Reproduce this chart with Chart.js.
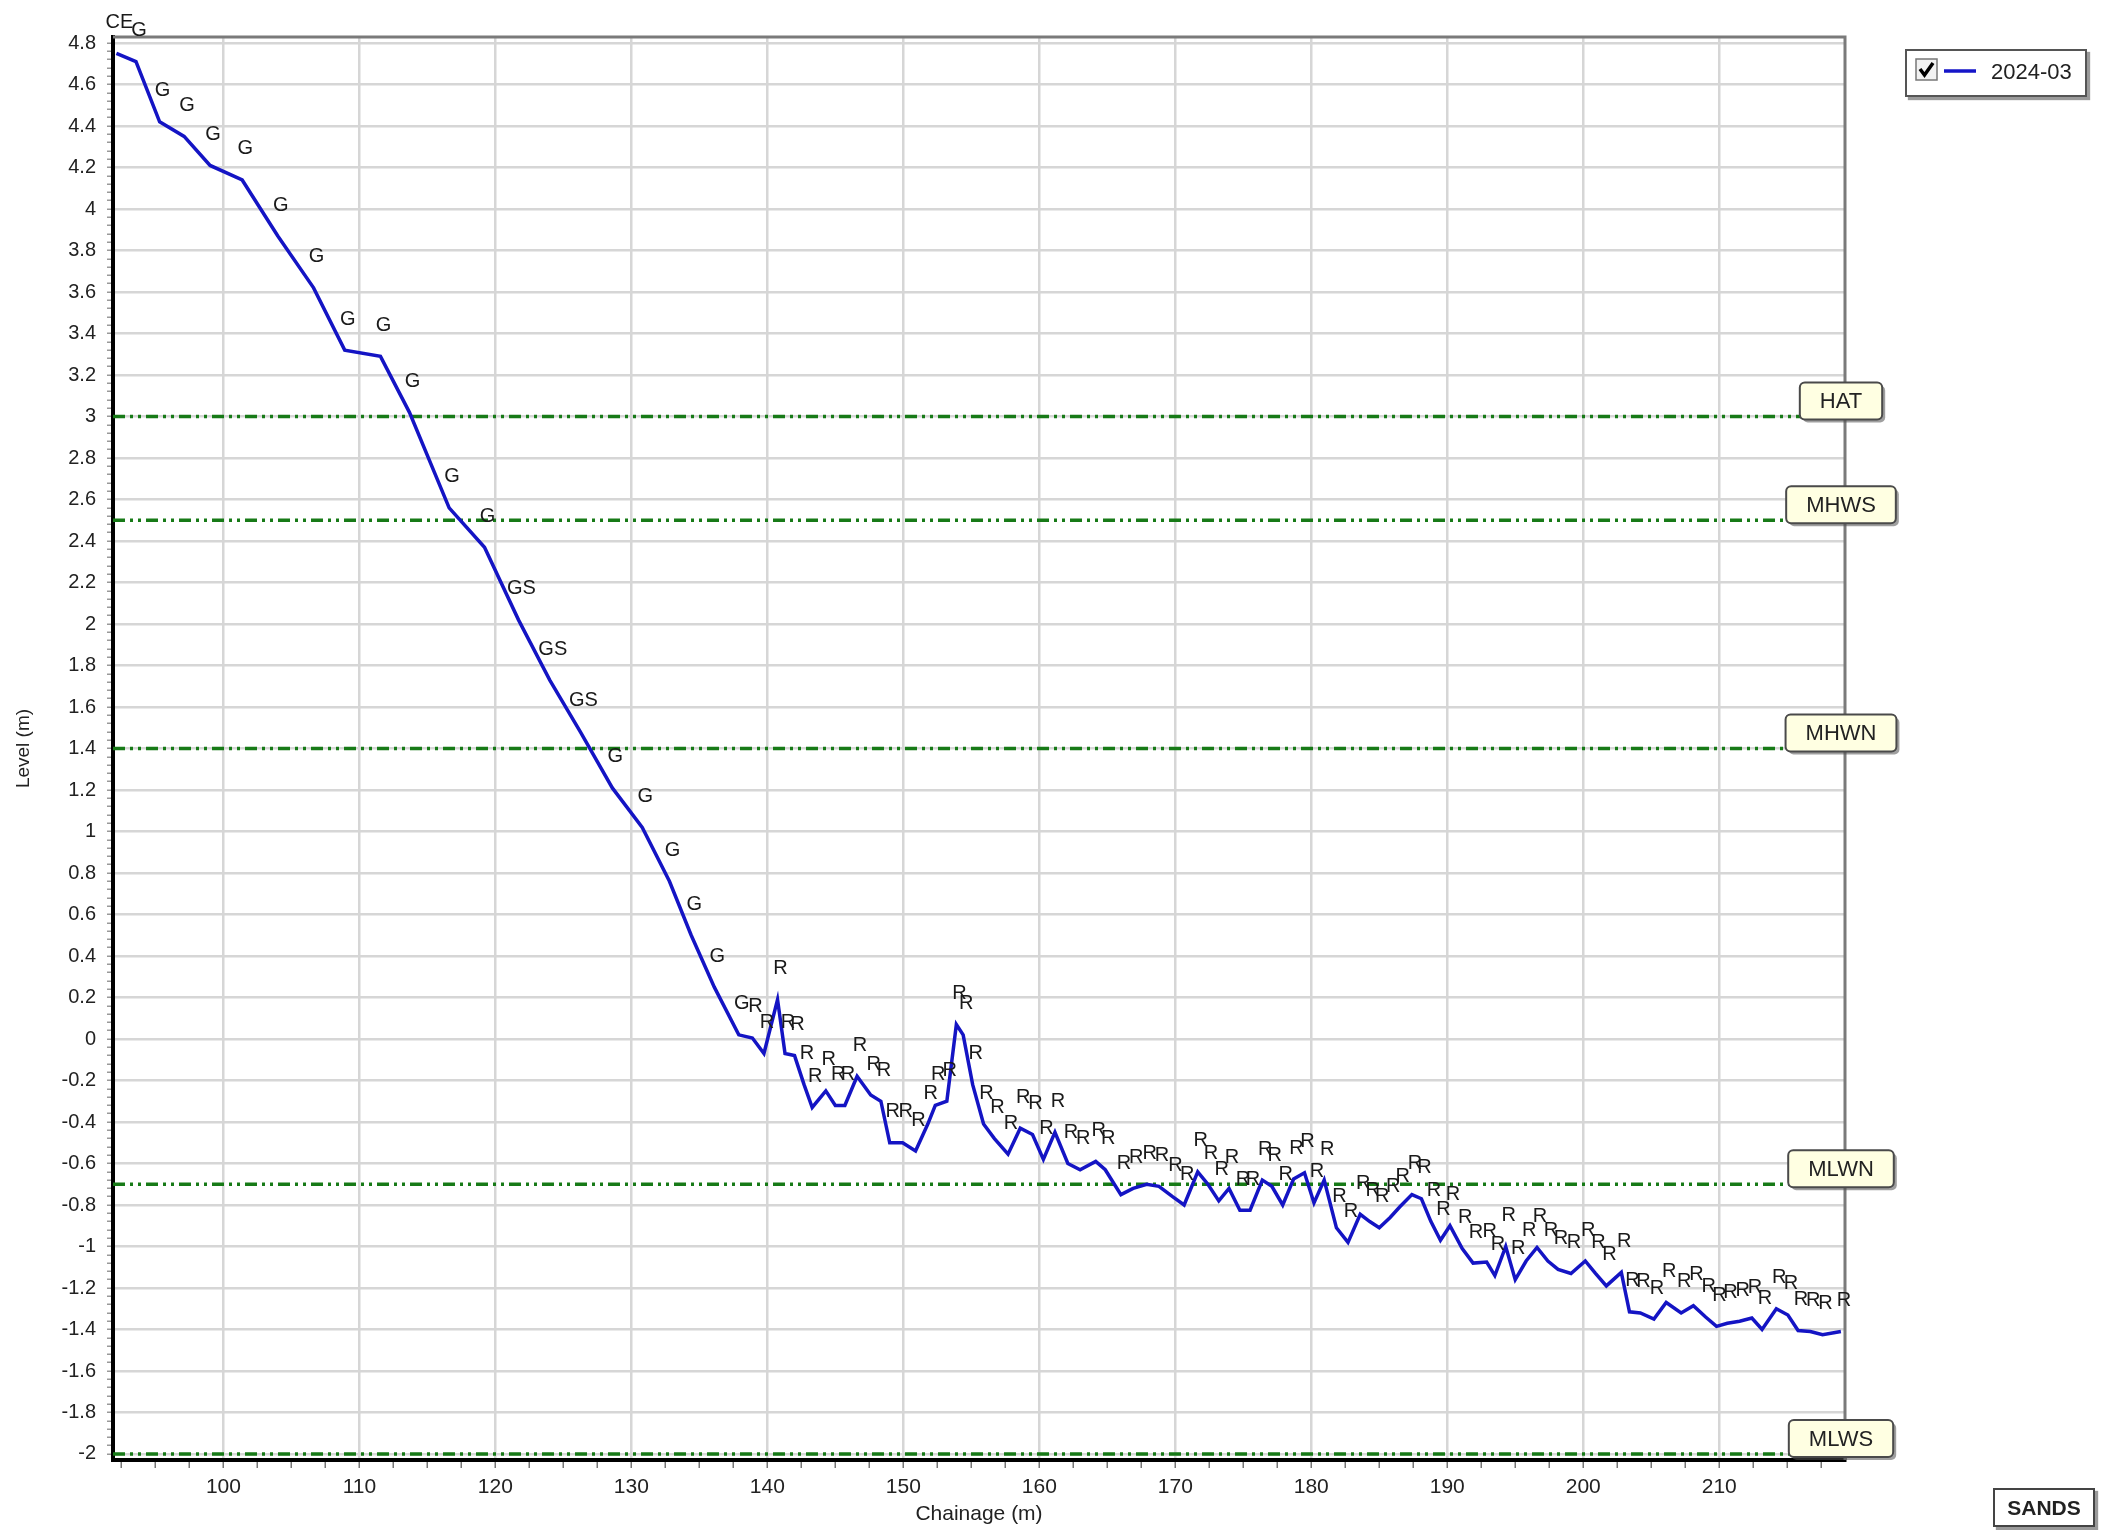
<!DOCTYPE html>
<html>
<head>
<meta charset="utf-8">
<title>Profile 2024-03</title>
<script src="https://cdn.jsdelivr.net/npm/chart.js"></script>
<style>
  html, body { margin: 0; padding: 0; background: #fff; }
  #wrap { position: relative; width: 2107px; height: 1530px; font-family: "Liberation Sans", Arial, sans-serif; }
  #profileChart { position: absolute; left: 0; top: 0; }
  #legend { position: absolute; left: 1905px; top: 49px; width: 178px; height: 44px; border: 2px solid #555; background: #fff; box-shadow: 3px 3px 1px #9a9a9a; }
  #legend svg { position: absolute; }
  #legend span { position: absolute; left: 84px; top: 8px; font-size: 22px; color: #222; }
  #sands { position: absolute; left: 1993px; top: 1488px; width: 98px; height: 35px; border: 2px solid #444; background: #fff; box-shadow: 3px 3px 1px #9a9a9a; font-weight: bold; font-size: 21px; color: #222; text-align: center; line-height: 35px; }
</style>
</head>
<body>
<div id="wrap">
  <canvas id="profileChart" width="2107" height="1530"></canvas>
  <div id="legend">
    <svg style="left:8px;top:7px" width="24" height="24">
      <rect x="1" y="1" width="21" height="21" fill="#f2f2f2" stroke="#777" stroke-width="1.5"/>
      <path d="M5 11 L9.5 17 L18 5" fill="none" stroke="#000" stroke-width="3.5"/>
    </svg>
    <svg style="left:37px;top:17px" width="32" height="6">
      <line x1="0" y1="3" x2="32" y2="3" stroke="#1515c8" stroke-width="3.5"/>
    </svg>
    <span>2024-03</span>
  </div>
  <div id="sands">SANDS</div>
</div>
<script>
// profil pantai, survei 2024-03
const chainage = [
  92.13, 93.57, 95.31, 97.11, 99.02, 101.38, 104.0, 106.63, 108.92, 111.55,
  113.68, 116.6, 119.2, 121.7, 124.0, 126.25, 128.6, 130.8, 132.8, 134.4,
  136.1, 137.9, 138.9, 139.75, 140.75, 141.3, 142.0, 142.7, 143.3, 144.3,
  145.0, 145.7, 146.6, 147.6, 148.35, 149.0, 149.95, 150.9, 151.8, 152.35,
  153.2, 153.9, 154.4, 155.1, 155.9, 156.7, 157.7, 158.6, 159.5, 160.3,
  161.15, 162.1, 163.0, 164.15, 164.85, 166.0, 166.9, 167.9, 168.8, 169.8,
  170.65, 171.65, 172.4, 173.2, 173.95, 174.75, 175.5, 176.4, 177.1, 177.9,
  178.7, 179.5, 180.2, 180.95, 181.85, 182.7, 183.6, 184.3, 185.0, 185.8,
  186.5, 187.4, 188.1, 188.8, 189.5, 190.2, 191.1, 191.9, 192.9, 193.5,
  194.3, 195.0, 195.8, 196.6, 197.4, 198.15, 199.1, 200.15, 200.9, 201.7,
  202.8, 203.4, 204.2, 205.2, 206.1, 207.2, 208.1, 209.0, 209.8, 210.6,
  211.5, 212.4, 213.15, 214.2, 215.05, 215.8, 216.7, 217.6, 218.95
];
const level = [
  4.75, 4.71, 4.42, 4.35, 4.21, 4.14, 3.87, 3.62, 3.32, 3.29,
  3.02, 2.56, 2.37, 2.02, 1.73, 1.48, 1.21, 1.02, 0.76, 0.50,
  0.25, 0.02, 0.005, -0.07, 0.19, -0.07, -0.08, -0.22, -0.33, -0.25,
  -0.32, -0.32, -0.18, -0.27, -0.30, -0.50, -0.50, -0.54, -0.41, -0.32,
  -0.30, 0.07, 0.02, -0.22, -0.41, -0.48, -0.555, -0.43, -0.46, -0.58,
  -0.45, -0.60, -0.63, -0.59, -0.63, -0.75, -0.72, -0.70, -0.71, -0.76,
  -0.80, -0.64, -0.70, -0.78, -0.72, -0.825, -0.825, -0.68, -0.71, -0.80,
  -0.675, -0.645, -0.79, -0.68, -0.91, -0.98, -0.845, -0.88, -0.91, -0.86,
  -0.81, -0.75, -0.77, -0.88, -0.97, -0.90, -1.01, -1.08, -1.075, -1.14,
  -1.00, -1.16, -1.07, -1.005, -1.07, -1.11, -1.13, -1.07, -1.13, -1.19,
  -1.125, -1.315, -1.32, -1.35, -1.27, -1.32, -1.285, -1.34, -1.385, -1.37,
  -1.36, -1.345, -1.40, -1.30, -1.33, -1.405, -1.41, -1.425, -1.41
];
const codes = [
  'CE', 'G', 'G', 'G', 'G', 'G', 'G', 'G', 'G', 'G',
  'G', 'G', 'G', 'GS', 'GS', 'GS', 'G', 'G', 'G', 'G',
  'G', 'G', 'R', 'R', 'R', 'R', 'R', 'R', 'R', 'R',
  'R', 'R', 'R', 'R', 'R', 'R', 'R', 'R', 'R', 'R',
  'R', 'R', 'R', 'R', 'R', 'R', 'R', 'R', 'R', 'R',
  'R', 'R', 'R', 'R', 'R', 'R', 'R', 'R', 'R', 'R',
  'R', 'R', 'R', 'R', 'R', 'R', 'R', 'R', 'R', 'R',
  'R', 'R', 'R', 'R', 'R', 'R', 'R', 'R', 'R', 'R',
  'R', 'R', 'R', 'R', 'R', 'R', 'R', 'R', 'R', 'R',
  'R', 'R', 'R', 'R', 'R', 'R', 'R', 'R', 'R', 'R',
  'R', 'R', 'R', 'R', 'R', 'R', 'R', 'R', 'R', 'R',
  'R', 'R', 'R', 'R', 'R', 'R', 'R', 'R', 'R'
];
const tideNames = ['HAT', 'MHWS', 'MHWN', 'MLWN', 'MLWS'];
const tideLevels = [3.0, 2.5, 1.4, -0.7, -2.0];
const xMin = 91.88, xMax = 219.25;
const yMin = -2.029, yMax = 4.829;

const FONT = '"Liberation Sans", Arial, sans-serif';
const GRID = '#d6d6d6';
const TIDE = '#177a17';

const isMajorX = v => Math.round(v * 10) % 100 === 0;
const isMajorY = v => Math.round(v * 100) % 20 === 0;

// kode titik (G, R, ...) di atas garis
const pointCodes = {
  id: 'pointCodes',
  afterDatasetsDraw(chart) {
    const ctx = chart.ctx;
    const meta = chart.getDatasetMeta(0);
    ctx.save();
    ctx.font = '20px ' + FONT;
    ctx.fillStyle = '#1a1a1a';
    ctx.textAlign = 'center';
    ctx.textBaseline = 'middle';
    meta.data.forEach((pt, i) => ctx.fillText(codes[i], pt.x + 3, pt.y - 31));
    ctx.restore();
  }
};

// bingkai atas & kanan
const frame = {
  id: 'frame',
  beforeDatasetsDraw(chart) {
    const { ctx, chartArea: a } = chart;
    ctx.save();
    ctx.strokeStyle = '#7a7a7a';
    ctx.lineWidth = 3;
    ctx.beginPath();
    ctx.moveTo(a.left, a.top);
    ctx.lineTo(a.right, a.top);
    ctx.lineTo(a.right, a.bottom);
    ctx.stroke();
    ctx.restore();
  }
};

// label pasang surut di kanan
const tideTags = {
  id: 'tideTags',
  afterDraw(chart) {
    const { ctx, chartArea, scales: { y } } = chart;
    ctx.save();
    ctx.font = '22px ' + FONT;
    tideNames.forEach((name, i) => {
      const yy = y.getPixelForValue(tideLevels[i]);
      const w = ctx.measureText(name).width + 40;
      const h = 37;
      const left = chartArea.right - 4 - w / 2;
      const top = yy + 3 - h;
      ctx.fillStyle = 'rgba(80,80,80,0.55)';
      ctx.beginPath();
      ctx.roundRect(left + 3, top + 3, w, h, 5);
      ctx.fill();
      ctx.fillStyle = '#ffffe2';
      ctx.strokeStyle = '#4a4a4a';
      ctx.lineWidth = 2;
      ctx.beginPath();
      ctx.roundRect(left, top, w, h, 5);
      ctx.fill();
      ctx.stroke();
      ctx.fillStyle = '#222';
      ctx.textAlign = 'center';
      ctx.textBaseline = 'middle';
      ctx.fillText(name, left + w / 2, top + h / 2 + 1);
    });
    ctx.restore();
  }
};

const profile = {
  label: '2024-03',
  data: chainage.map((c, i) => ({ x: c, y: level[i] })),
  borderColor: '#1414c4',
  borderWidth: 3.5,
  pointRadius: 0,
  tension: 0,
  order: 0
};

const tideSets = tideNames.map((name, i) => ({
  label: name,
  data: [{ x: xMin, y: tideLevels[i] }, { x: xMax, y: tideLevels[i] }],
  borderColor: TIDE,
  borderWidth: 3.5,
  borderDash: [12, 5, 3, 5, 3, 5],
  pointRadius: 0,
  order: 1
}));

const config = {
  type: 'line',
  data: { datasets: [profile, ...tideSets] },
  options: {
    responsive: false,
    animation: false,
    devicePixelRatio: 1,
    layout: { padding: { left: 0, top: 37, right: 262, bottom: 0 } },
    plugins: { legend: { display: false }, tooltip: { enabled: false } },
    scales: {
      x: {
        type: 'linear',
        min: xMin,
        max: xMax,
        afterFit: s => { s.height = 70; },
        border: { color: '#000', width: 4 },
        grid: {
          color: c => isMajorX(c.tick.value) ? GRID : 'rgba(0,0,0,0)',
          lineWidth: 2.5,
          tickColor: '#777',
          tickLength: 8,
          tickWidth: 1.5
        },
        ticks: {
          stepSize: 2.5,
          includeBounds: false,
          autoSkip: false,
          maxRotation: 0,
          padding: 7,
          color: '#222',
          font: { family: FONT, size: 21 },
          callback: v => isMajorX(v) ? String(Math.round(v)) : ''
        },
        title: {
          display: true,
          text: 'Chainage (m)',
          color: '#222',
          font: { family: FONT, size: 21 },
          padding: { top: 0, bottom: 3 }
        }
      },
      y: {
        type: 'linear',
        min: yMin,
        max: yMax,
        afterFit: s => { s.width = 113; },
        border: { color: '#000', width: 4 },
        grid: {
          color: c => isMajorY(c.tick.value) ? GRID : 'rgba(0,0,0,0)',
          lineWidth: 2.5,
          tickColor: '#999',
          tickLength: 6,
          tickWidth: 1.5
        },
        ticks: {
          stepSize: 0.04,
          includeBounds: false,
          autoSkip: false,
          padding: 11,
          color: '#222',
          font: { family: FONT, size: 20 },
          callback: v => isMajorY(v) ? String(Number(v.toFixed(2)) + 0) : ''
        },
        title: {
          display: true,
          text: 'Level (m)',
          color: '#222',
          font: { family: FONT, size: 19 },
          padding: { top: 12, bottom: 0 }
        }
      }
    }
  },
  plugins: [frame, pointCodes, tideTags]
};

new Chart(document.getElementById('profileChart'), config);
</script>
</body>
</html>
